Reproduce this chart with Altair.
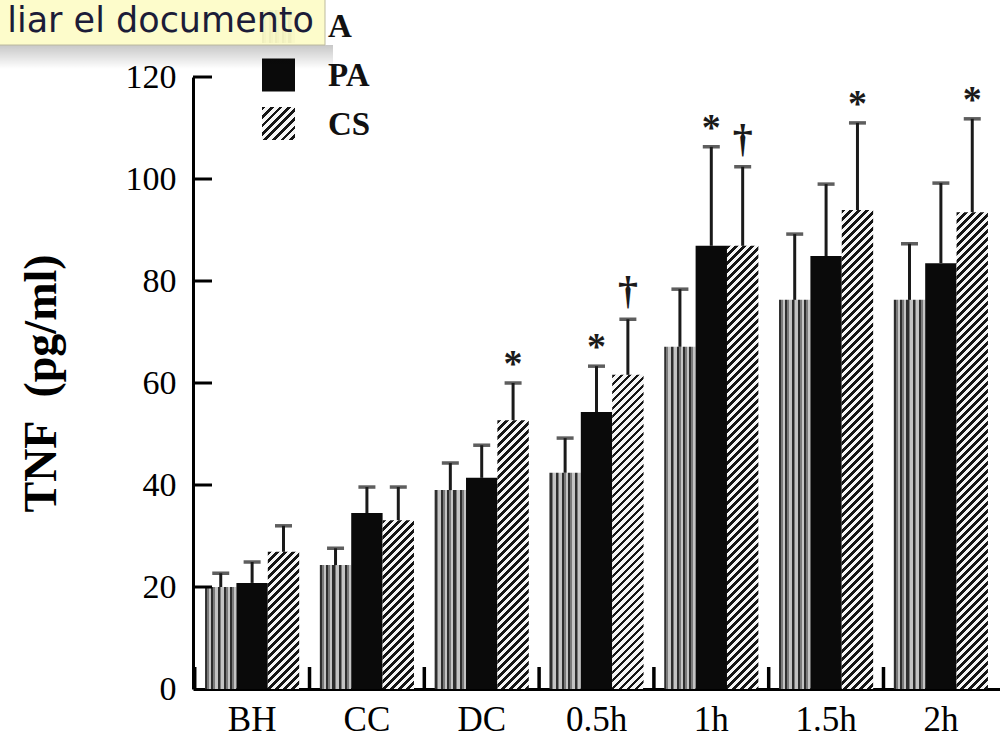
import altair as alt

# ---------------- data ----------------
categories = ["BH", "CC", "DC", "0.5h", "1h", "1.5h", "2h"]
series = ["A", "PA", "CS"]

a_values = [20.0, 24.3, 39.0, 42.4, 67.1, 76.3, 76.3]
pa_values = [20.8, 34.5, 41.4, 54.3, 86.9, 84.9, 83.5]
cs_values = [26.9, 33.1, 52.7, 61.6, 86.9, 93.9, 93.5]

a_err = [2.7, 3.3, 5.3, 6.8, 11.3, 12.9, 11.0]
pa_err = [4.1, 5.1, 6.4, 9.0, 19.4, 14.1, 15.7]
cs_err = [5.1, 6.5, 7.3, 10.9, 15.5, 17.1, 18.3]

a_marks = ["", "", "", "", "", "", ""]
pa_marks = ["", "", "", "*", "*", "", ""]
cs_marks = ["", "", "*", "\u2020", "\u2020", "*", "*"]

y_ticks = [20, 40, 60, 80, 100, 120]

# ---------------- layout ----------------
W, H = 807, 612
YMAX = 120
PAD_IN, PAD_OUT = 0.18, 0.105
STEP = W / (len(categories) - PAD_IN + 2 * PAD_OUT)
BAR_W = STEP * (1 - PAD_IN) / len(series)
PX = H / YMAX
SERIF = "Liberation Serif"


def stripe_grad(n=5):
    stops = []
    p = 1.0 / n
    segs = [(0.34, "#2e2e2e"), (0.26, "#7a7a7a"), (0.40, "#c4c4c4")]
    for k in range(n):
        pos = k * p
        for frac, col in segs:
            stops.append({"offset": round(pos, 4), "color": col})
            pos = min(pos + frac * p, 1.0)
            stops.append({"offset": round(pos, 4), "color": col})
    return {"gradient": "linear", "x1": 0, "y1": 0, "x2": 1, "y2": 0, "stops": stops}


def hatch_grad(w, h, period=8.0, dark_frac=0.45, dark="#151515", light="#f5f5f5"):
    L = w + h
    s = w * L / (w * w + h * h)
    stops = []
    k = 0
    while k * period < L:
        a = k * period / L
        b = min((k * period + dark_frac * period) / L, 1.0)
        c = min((k + 1) * period / L, 1.0)
        stops += [
            {"offset": round(a, 5), "color": dark},
            {"offset": round(b, 5), "color": dark},
            {"offset": round(b, 5), "color": light},
            {"offset": round(c, 5), "color": light},
        ]
        k += 1
    return {"gradient": "linear", "x1": 0, "y1": 0, "x2": s, "y2": s * h / w, "stops": stops}


SOLID = "#0a0a0a"

rows = []
for i, c in enumerate(categories):
    for s, vals, errs, mk in [
        ("A", a_values, a_err, a_marks),
        ("PA", pa_values, pa_err, pa_marks),
        ("CS", cs_values, cs_err, cs_marks),
    ]:
        v = vals[i]
        if s == "A":
            g = stripe_grad()
        elif s == "PA":
            g = SOLID
        else:
            g = hatch_grad(BAR_W, v * PX)
        rows.append({"cat": c, "series": s, "value": v, "upper": v + errs[i],
                     "mark": mk[i], "grad": g})

data = alt.Data(values=rows)

xscale = alt.Scale(paddingInner=PAD_IN, paddingOuter=PAD_OUT)
yscale = alt.Scale(domain=[0, YMAX], nice=False, zero=True)
xo = alt.XOffset("series:N", sort=series, scale=alt.Scale(paddingInner=0, paddingOuter=0))

xaxis = alt.Axis(title=None, ticks=False, labelAngle=0, labelFont=SERIF,
                 labelFontSize=35, labelColor="black", labelPadding=13,
                 domainColor="black", domainWidth=3, grid=False)
yaxis = alt.Axis(title="TNF\u00a0\u00a0(pg/ml)", values=[0] + y_ticks, ticks=False,
                 grid=False, labelFont=SERIF, labelFontSize=34, labelColor="black",
                 labelPadding=17, domainColor="black", domainWidth=3,
                 titleFont=SERIF, titleFontSize=46, titleFontWeight="bold",
                 titleColor="black", titleAngle=270, titleBaseline="middle",
                 titleX=-152, titleY=306)


def X(**kw):
    return alt.X("cat:N", sort=categories, scale=xscale, axis=xaxis, **kw)


def Y(field):
    return alt.Y(field, scale=yscale, axis=yaxis)


bars = alt.Chart(data).mark_bar().encode(
    x=X(), xOffset=xo, y=Y("value:Q"),
    fill=alt.Fill("grad:N", scale=None, legend=None),
)

err_rules = alt.Chart(data).mark_rule(strokeWidth=3, color="#1a1a1a").encode(
    x=X(), xOffset=xo, y=Y("value:Q"), y2="upper:Q",
)

err_caps = alt.Chart(data).mark_tick(orient="horizontal", size=17, thickness=3.5,
                                     color="#1a1a1a").encode(
    x=X(), xOffset=xo, y=Y("upper:Q"),
)

stars = alt.Chart(data).transform_filter("datum.mark == '*'").mark_text(
    font=SERIF, fontSize=38, fontWeight="bold", color="#1a1a1a", baseline="alphabetic", dy=-7
).encode(x=X(), xOffset=xo, y=Y("upper:Q"), text="mark:N")

daggers = alt.Chart(data).transform_filter("datum.mark == '\u2020'").mark_text(
    font=SERIF, fontSize=40, fontWeight="bold", color="#1a1a1a", baseline="alphabetic", dy=-15
).encode(x=X(), xOffset=xo, y=Y("upper:Q"), text="mark:N")

ytick_rules = alt.Chart(alt.Data(values=[{"value": t} for t in y_ticks])).mark_rule(
    strokeWidth=3, color="black"
).encode(
    y=Y("value:Q"),
    x=alt.value(0),
    x2=alt.value(19),
)

xtick_rules = alt.Chart(alt.Data(values=[{"cat": c} for c in categories])).mark_rule(
    strokeWidth=3.5, color="black", xOffset=-(STEP * PAD_IN / 2)
).encode(
    x=X(bandPosition=0),
    y=alt.value(H),
    y2=alt.value(H - 22),
)

# ---------------- legend (drawn by hand) ----------------
one = alt.Data(values=[{"k": 0}])
legend_fills = [stripe_grad(), SOLID, hatch_grad(33, 33, period=8.5)]
legend_layers = []
for i, s in enumerate(series):
    top = -67 + 48.5 * i
    legend_layers.append(
        alt.Chart(one).mark_rect().encode(
            x=alt.value(69), x2=alt.value(102),
            y=alt.value(top), y2=alt.value(top + 33),
            fill=alt.value(legend_fills[i]),
        )
    )
    legend_layers.append(
        alt.Chart(one).mark_text(font=SERIF, fontSize=33, fontWeight="bold", align="left",
                                 baseline="alphabetic", color="#111111").encode(
            x=alt.value(135), y=alt.value(-40 + 49 * i), text=alt.value(s)
        )
    )

# ---------------- browser tooltip overlay ----------------
shadow = alt.Chart(one).mark_rect().encode(
    x=alt.value(-193), x2=alt.value(140),
    y=alt.value(-32), y2=alt.value(-8),
    fill=alt.value({"gradient": "linear", "x1": 0, "y1": 0, "x2": 0, "y2": 1,
                    "stops": [{"offset": 0, "color": "rgba(0,0,0,0.22)"},
                              {"offset": 1, "color": "rgba(0,0,0,0)"}]}),
)
tip_box = alt.Chart(one).mark_rect(stroke="#b9b79a", strokeWidth=1, opacity=0.94).encode(
    x=alt.value(-200), x2=alt.value(132),
    y=alt.value(-80), y2=alt.value(-32),
    fill=alt.value("#fdfcc8"),
)
tip_text = alt.Chart(one).mark_text(font="DejaVu Sans", fontSize=35, align="right",
                                    baseline="alphabetic", color="#1c1c38").encode(
    x=alt.value(121), y=alt.value(-45), text=alt.value("liar el documento")
)

chart = alt.layer(
    bars, err_rules, err_caps, stars, daggers, ytick_rules, xtick_rules,
    *legend_layers, shadow, tip_box, tip_text
).properties(
    width=W, height=H,
    autosize=alt.AutoSizeParams(type="none"),
    padding={"left": 193, "top": 77, "right": 0, "bottom": 48},
    background="white",
).configure_view(stroke=None)

chart.save("out.html", embed_options={"renderer": "svg", "actions": False})
